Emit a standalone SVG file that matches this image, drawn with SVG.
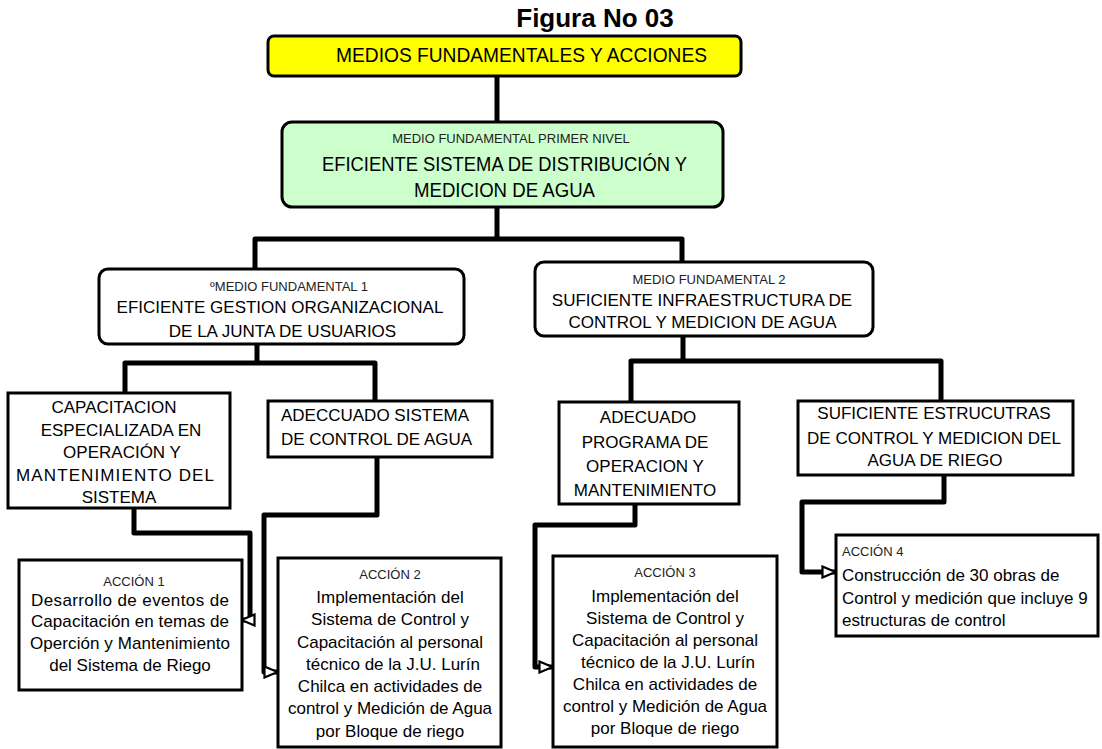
<svg xmlns="http://www.w3.org/2000/svg" width="1102" height="749" viewBox="0 0 1102 749">
<style>
text{font-family:"Liberation Sans",Arial,sans-serif;fill:#000}
.t{font-size:17px}
.s{font-size:13px;fill:#222}
.m{text-anchor:middle}
.box{fill:#fff;stroke:#000;stroke-width:3}
.tree{fill:none;stroke:#000;stroke-width:5;stroke-linejoin:round}
.arr{fill:none;stroke:#000;stroke-width:5;stroke-linejoin:round}
</style>
<defs>
<marker id="ah" markerUnits="userSpaceOnUse" viewBox="0 0 16 14" refX="15" refY="7" markerWidth="16" markerHeight="14" orient="auto">
<path d="M1.5,1.5 L14.5,7 L1.5,12.5 Z" fill="#fff" stroke="#000" stroke-width="2.2"/>
</marker>
</defs>
<rect width="1102" height="749" fill="#fff"/>
<text x="595" y="27" class="m" style="font-size:26px;font-weight:bold">Figura No 03</text>

<g id="connectors">
<path class="tree" d="M497,76 V122"/>
<path class="tree" d="M497,207 V239 M255,269 V239 H682 V262"/>
<path class="tree" d="M257,344 V363 M125,393 V363 H375 V401"/>
<path class="tree" d="M683,336 V361 M631,402 V361 H941 V401"/>
<path class="arr" d="M134,508 V533 H250 V620 H241" marker-end="url(#ah)"/>
<path class="arr" d="M377,457 V515 H264 V672 H278" marker-end="url(#ah)"/>
<path class="arr" d="M635,504 V525 H535 V667 H553" marker-end="url(#ah)"/>
<path class="arr" d="M944,475 V502 H802 V572 H836" marker-end="url(#ah)"/>
</g>

<g id="root">
<rect x="268" y="36" width="473" height="40" rx="6" fill="#ffff00" stroke="#000" stroke-width="3"/>
<text x="521.5" y="62" class="m" style="font-size:20px" textLength="371" lengthAdjust="spacingAndGlyphs">MEDIOS FUNDAMENTALES Y ACCIONES</text>
</g>

<g id="mf-primer-nivel">
<rect x="282" y="122" width="441" height="85" rx="10" fill="#ccffcc" stroke="#000" stroke-width="3"/>
<text x="511" y="143" class="s m">MEDIO FUNDAMENTAL PRIMER NIVEL</text>
<text x="504.5" y="171" class="m" style="font-size:20px" textLength="365" lengthAdjust="spacingAndGlyphs">EFICIENTE SISTEMA DE DISTRIBUCIÓN Y</text>
<text x="504.5" y="197" class="m" style="font-size:20px" textLength="181" lengthAdjust="spacingAndGlyphs">MEDICION DE AGUA</text>
</g>

<g id="mf1">
<rect x="99" y="269" width="365" height="75" rx="9" class="box"/>
<text x="289" y="291" class="s m">ºMEDIO FUNDAMENTAL 1</text>
<text x="280" y="313" class="t m">EFICIENTE GESTION ORGANIZACIONAL</text>
<text x="282.5" y="337" class="t m">DE LA JUNTA DE USUARIOS</text>
</g>

<g id="mf2">
<rect x="535" y="262" width="338" height="74" rx="9" class="box"/>
<text x="709" y="284" class="s m">MEDIO FUNDAMENTAL 2</text>
<text x="702" y="306" class="t m">SUFICIENTE INFRAESTRUCTURA DE</text>
<text x="702.5" y="328" class="t m">CONTROL Y MEDICION DE AGUA</text>
</g>

<g id="capacitacion">
<rect x="8" y="393" width="222" height="115" class="box"/>
<text x="114" y="413" class="t m">CAPACITACION</text>
<text x="121" y="436" class="t m">ESPECIALIZADA EN</text>
<text x="122" y="458" class="t m">OPERACIÓN Y</text>
<text x="115" y="481" class="t m" textLength="198" lengthAdjust="spacing">MANTENIMIENTO DEL</text>
<text x="119" y="503" class="t m">SISTEMA</text>
</g>

<g id="adeccuado-sistema">
<rect x="268" y="401" width="224" height="56" class="box"/>
<text x="281" y="421" class="t">ADECCUADO SISTEMA</text>
<text x="281" y="445" class="t">DE CONTROL DE AGUA</text>
</g>

<g id="adecuado-programa">
<rect x="559" y="402" width="180" height="102" class="box"/>
<text x="648" y="423" class="t m">ADECUADO</text>
<text x="645" y="447.5" class="t m">PROGRAMA DE</text>
<text x="645" y="472" class="t m">OPERACION Y</text>
<text x="645" y="496" class="t m">MANTENIMIENTO</text>
</g>

<g id="suficiente-estructuras">
<rect x="798" y="401" width="275" height="74" class="box"/>
<text x="934" y="419" class="t m">SUFICIENTE ESTRUCUTRAS</text>
<text x="934" y="444" class="t m">DE CONTROL Y MEDICION DEL</text>
<text x="935" y="466" class="t m">AGUA DE RIEGO</text>
</g>

<g id="accion1">
<rect x="19" y="560" width="223" height="130" class="box"/>
<text x="134" y="586" class="s m">ACCIÓN 1</text>
<text x="130" y="606" class="t m" textLength="198" lengthAdjust="spacing">Desarrollo de eventos de</text>
<text x="130" y="627" class="t m" textLength="198" lengthAdjust="spacing">Capacitación en temas de</text>
<text x="130" y="649" class="t m" textLength="200" lengthAdjust="spacing">Operción y Mantenimiento</text>
<text x="130" y="671" class="t m">del Sistema de Riego</text>
</g>

<g id="accion2">
<rect x="278" y="558" width="223" height="189" class="box"/>
<text x="390" y="579" class="s m">ACCIÓN 2</text>
<text x="390" y="603" class="t m">Implementación del</text>
<text x="390" y="625" class="t m">Sistema de Control y</text>
<text x="390" y="648" class="t m">Capacitación al personal</text>
<text x="393" y="670" class="t m">técnico de la J.U. Lurín</text>
<text x="390" y="692" class="t m">Chilca en actividades de</text>
<text x="390" y="714" class="t m">control y Medición de Agua</text>
<text x="390" y="737" class="t m">por Bloque de riego</text>
</g>

<g id="accion3">
<rect x="553" y="556" width="224" height="191" class="box"/>
<text x="665" y="577" class="s m">ACCIÓN 3</text>
<text x="665" y="602" class="t m">Implementación del</text>
<text x="665" y="624" class="t m">Sistema de Control y</text>
<text x="665" y="646" class="t m">Capacitación al personal</text>
<text x="668" y="668" class="t m">técnico de la J.U. Lurín</text>
<text x="665" y="690" class="t m">Chilca en actividades de</text>
<text x="665" y="712" class="t m">control y Medición de Agua</text>
<text x="665" y="734" class="t m">por Bloque de riego</text>
</g>

<g id="accion4">
<rect x="836" y="535" width="262" height="101" class="box"/>
<text x="842" y="556" class="s">ACCIÓN 4</text>
<text x="842" y="581" class="t">Construcción de 30 obras de</text>
<text x="842" y="604" class="t">Control y medición que incluye 9</text>
<text x="842" y="626" class="t">estructuras de control</text>
</g>
</svg>
